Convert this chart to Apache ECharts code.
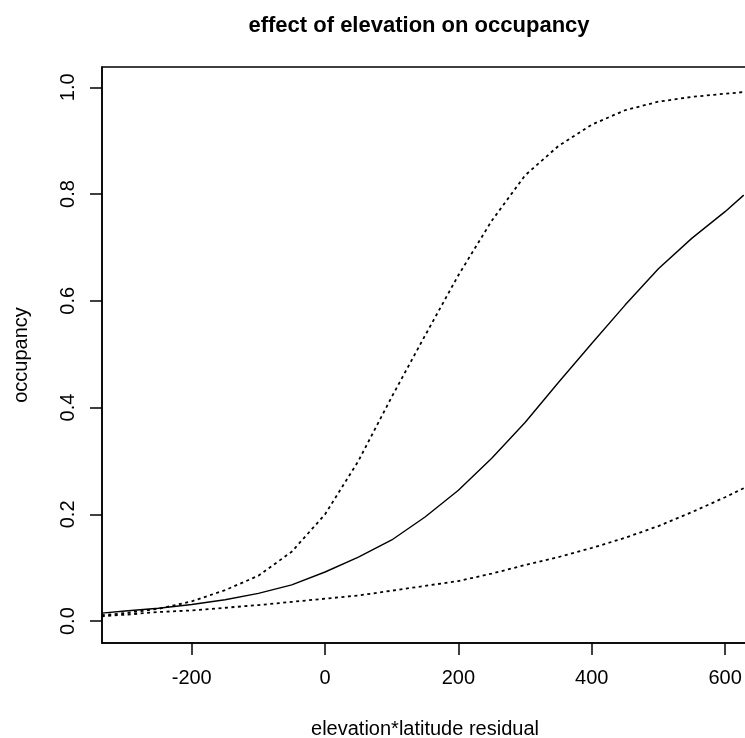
<!DOCTYPE html>
<html>
<head>
<meta charset="utf-8">
<script src="https://cdn.jsdelivr.net/npm/echarts@6/dist/echarts.min.js"></script>
<style>
  html, body { margin: 0; padding: 0; background: #fff; }
  #chart { width: 745px; height: 738px; }
</style>
</head>
<body>
<div id="chart"></div>
<script>
// elevation*latitude residual values where the curves were read
const xVals = [-335, -300, -250, -200, -150, -100, -50, 0, 50, 100, 150, 200, 250, 300, 350, 400, 450, 500, 550, 600, 628]
// fitted occupancy (solid) and upper / lower bounds (dotted)
const fitVals = [0.015, 0.019, 0.024, 0.031, 0.040, 0.052, 0.068, 0.092, 0.120, 0.152, 0.195, 0.245, 0.305, 0.372, 0.447, 0.520, 0.592, 0.660, 0.717, 0.767, 0.798]
const upperVals = [0.011, 0.015, 0.023, 0.037, 0.058, 0.085, 0.130, 0.200, 0.300, 0.420, 0.535, 0.648, 0.750, 0.835, 0.890, 0.930, 0.957, 0.973, 0.982, 0.988, 0.991]
const lowerVals = [0.009, 0.012, 0.017, 0.020, 0.025, 0.030, 0.036, 0.042, 0.048, 0.057, 0.066, 0.075, 0.089, 0.105, 0.120, 0.137, 0.156, 0.178, 0.204, 0.232, 0.249]
const xTicks = [-200, 0, 200, 400, 600]
const yTicks = [0, 0.2, 0.4, 0.6, 0.8, 1.0]

const font = "'Liberation Sans', Arial, sans-serif"
const pair = arr => xVals.map((x, i) => [x, arr[i]])

let chart = echarts.init(document.getElementById('chart'))
let option = {
  backgroundColor: '#fff',
  animation: false,
  title: {
    text: 'effect of elevation on occupancy',
    left: 414,
    top: 10,
    textAlign: 'center',
    textStyle: {
      fontFamily: font,
      fontSize: 22,
      fontWeight: 'bold',
      color: '#000'
    }
  },
  grid: {
    show: true,
    left: 102,
    top: 67,
    width: 646,
    height: 576,
    outerBoundsMode: 'none',
    containLabel: false,
    borderColor: '#000',
    borderWidth: 1.5,
    backgroundColor: 'transparent'
  },
  xAxis: {
    type: 'value',
    min: -334.6,
    max: 634.4,
    name: 'elevation*latitude residual',
    nameLocation: 'middle',
    nameGap: 76,
    nameTextStyle: { fontFamily: font, fontSize: 20, color: '#000' },
    axisLine: { show: true, onZero: false, lineStyle: { color: '#000', width: 1.5 } },
    axisTick: {
      show: true,
      length: 12,
      customValues: xTicks,
      lineStyle: { color: '#000', width: 1.5 }
    },
    axisLabel: {
      customValues: xTicks,
      margin: 25,
      fontFamily: font,
      fontSize: 20,
      color: '#000'
    },
    splitLine: { show: false }
  },
  yAxis: {
    type: 'value',
    min: -0.041,
    max: 1.038,
    name: 'occupancy',
    nameLocation: 'middle',
    nameGap: 71,
    nameTextStyle: { fontFamily: font, fontSize: 20, color: '#000' },
    axisLine: { show: true, onZero: false, lineStyle: { color: '#000', width: 1.5 } },
    axisTick: {
      show: true,
      length: 12,
      customValues: yTicks,
      lineStyle: { color: '#000', width: 1.5 }
    },
    axisLabel: {
      customValues: yTicks,
      rotate: 90,
      margin: 24,
      fontFamily: font,
      fontSize: 20,
      color: '#000',
      formatter: v => v.toFixed(1)
    },
    splitLine: { show: false }
  },
  series: [
    {
      name: 'fit',
      type: 'line',
      data: pair(fitVals),
      symbol: 'none',
      lineStyle: { color: '#000', width: 1.4, type: 'solid' }
    },
    {
      name: 'upper',
      type: 'line',
      data: pair(upperVals),
      symbol: 'none',
      lineStyle: { color: '#000', width: 1.8, type: [3, 3.5] }
    },
    {
      name: 'lower',
      type: 'line',
      data: pair(lowerVals),
      symbol: 'none',
      lineStyle: { color: '#000', width: 1.8, type: [3, 3.5] }
    }
  ]
}
chart.setOption(option)
</script>
</body>
</html>
